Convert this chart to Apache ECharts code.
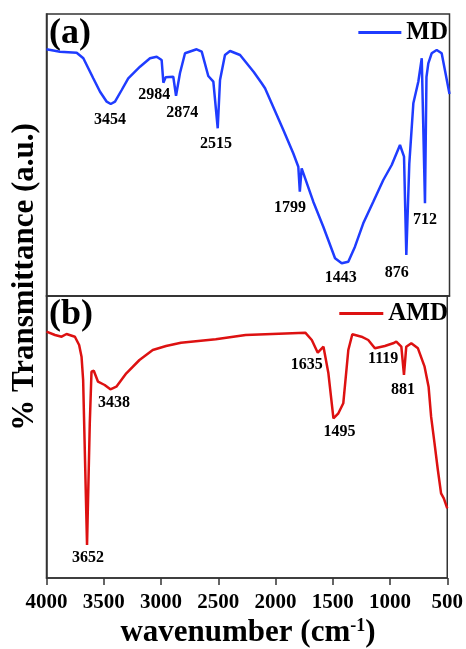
<!DOCTYPE html>
<html><head><meta charset="utf-8">
<script src="https://cdn.jsdelivr.net/npm/echarts@6/dist/echarts.min.js"></script>
<style>html,body{margin:0;padding:0;background:#fff}#c{width:466px;height:649px}</style>
</head><body><div id="c"></div>
<script>
// MD spectrum (panel a): wavenumber (cm-1) and transmittance (a.u.)
const mdWavenumber = [4000,3883,3738,3680,3637,3594,3535,3477,3442,3405,3347,3290,3188,3101,3043,3000,2985,2965,2899,2875,2841,2797,2696,2652,2595,2551,2513,2493,2450,2406,2319,2200,2131,2102,1943,1857,1813,1800,1784,1683,1596,1553,1494,1436,1379,1321,1249,1162,1075,1002,930,895,875,849,814,771,741,727,713,700,684,655,611,568,500];
const mdTransmittance = [246.7,244.3,243.3,237.7,227.7,217.7,204.3,194.3,192,194.3,206,217.7,229.3,237.7,239.3,236,213.3,218.7,219.3,200.3,222.7,242.7,246.7,244.3,220,214.3,167.7,216,241,245,241,224,212.7,207.7,166,142.7,129.3,104.3,127.7,94.3,69.3,56,37.7,32.7,34.3,49.3,72.7,94.3,116,131,151,139.3,41,132.7,192.7,214.3,237.7,236,92.7,219,232.7,242.7,246,242.7,202];
// AMD spectrum (panel b)
const amdWavenumber = [4000,3926,3868,3825,3752,3715,3694,3680,3646,3622,3607,3587,3550,3492,3442,3390,3303,3188,3072,2956,2826,2522,2261,1740,1683,1631,1581,1538,1494,1451,1408,1364,1329,1249,1190,1132,1045,973,945,901,878,858,814,756,698,663,641,611,582,554,530,500];
const amdTransmittance = [246.3,243,241.3,244,241.3,233,221.3,198,33,154.7,206.3,207.3,196.3,193,188.7,191.3,204.7,218,228,232,235.3,238.7,243,245.3,238,225.3,231.3,204.7,159.7,164.7,174.7,228,243.7,241.3,238,229.7,232,234.7,236.3,231.3,203,231.3,234.7,229.7,211.3,191.3,161.3,134.7,108,84.7,79.7,69.7];
// Peak annotations: label text, anchor wavenumber, anchor transmittance
const mdPeakText = ['3454','2984','2874','2515','1799','1443','876','712'];
const mdPeakX = [3448,3064,2821,2528,1885,1445,958,713];
const mdPeakY = [176,201,182.7,151.7,87.7,17.7,22.7,76];
const amdPeakText = ['3652','3438','1635','1495','1119','881'];
const amdPeakX = [3637,3411,1726,1442,1060,886];
const amdPeakY = [19.7,174.7,213,146.3,218.7,188];
const xTicks = [4000,3500,3000,2500,2000,1500,1000,500];
const seriesNames = ['MD','AMD'];
const panelTags = ['(a)','(b)'];

const FONT = '"Liberation Serif","Times New Roman",serif';
const zip = (a,b) => a.map((v,i)=>[v,b[i]]);
const chart = echarts.init(document.getElementById('c'));

const L = 46.5, W = 403;
function xAx(idx, showLabels){
  return {gridIndex: idx, type:'value', inverse:true, min:500, max:4000, interval:500,
    axisLine:{show:true, onZero:false, lineStyle:{color:'#333', width:1.5}},
    axisTick:{show:showLabels, inside:false, length:7, lineStyle:{color:'#333', width:1.5}},
    axisLabel:{show:showLabels, fontFamily:FONT, fontWeight:'bold', fontSize:21, color:'#000', margin:14,
      formatter: v => xTicks.includes(v) ? String(v) : ''},
    splitLine:{show:false}};
}
function yAx(idx){
  return {gridIndex: idx, type:'value', min:0, max:282,
    axisLine:{show:true, lineStyle:{color:'#333', width:1.5}}, axisTick:{show:false}, axisLabel:{show:false}, splitLine:{show:false}};
}
function peaks(idx, texts, xs, ys){
  return {type:'scatter', xAxisIndex:idx, yAxisIndex:idx, symbolSize:0, silent:true,
    itemStyle:{opacity:1},
    data: texts.map((t,i)=>({value:[xs[i], ys[i]], name:t})),
    label:{show:true, position:'inside', formatter: p => p.name, fontFamily:FONT, fontWeight:'bold', fontSize:16, color:'#000', opacity:1}};
}

chart.setOption({
  animation:false,
  backgroundColor:'#fff',
  grid:[{left:L, width:W, top:14, height:282, show:true, borderColor:'#333', borderWidth:1.5},
        {left:L, width:W, top:296, height:282, show:true, borderColor:'#333', borderWidth:1.5}],
  xAxis:[xAx(0,false), xAx(1,true)],
  yAxis:[yAx(0), yAx(1)],
  legend:[
    {data:[seriesNames[0]], right:18, top:20, itemWidth:43, itemHeight:3, itemGap:6,
     textStyle:{fontFamily:FONT, fontWeight:'bold', fontSize:25, color:'#000'}, icon:'rect', padding:0},
    {data:[seriesNames[1]], right:18, top:301, itemWidth:44, itemHeight:3, itemGap:6,
     textStyle:{fontFamily:FONT, fontWeight:'bold', fontSize:25, color:'#000'}, icon:'rect', padding:0}
  ],
  series:[
    {name:seriesNames[0], type:'line', xAxisIndex:0, yAxisIndex:0, data:zip(mdWavenumber, mdTransmittance),
     showSymbol:false, symbol:'none', lineStyle:{color:'#1f3cff', width:2.5}, itemStyle:{color:'#1f3cff'}},
    {name:seriesNames[1], type:'line', xAxisIndex:1, yAxisIndex:1, data:zip(amdWavenumber, amdTransmittance),
     showSymbol:false, symbol:'none', lineStyle:{color:'#dd1111', width:2.5}, itemStyle:{color:'#dd1111'}},
    peaks(0, mdPeakText, mdPeakX, mdPeakY),
    peaks(1, amdPeakText, amdPeakX, amdPeakY)
  ],
  graphic:[
    {type:'text', left:49, top:16, style:{text:panelTags[0], font:'bold 36px '+FONT, fill:'#000'}},
    {type:'text', left:49, top:297, style:{text:panelTags[1], font:'bold 36px '+FONT, fill:'#000'}},
    {type:'text', x:25, y:277, rotation:Math.PI/2,
     style:{text:'% Transmittance (a.u.)', font:'bold 31px '+FONT, fill:'#000', align:'center', verticalAlign:'middle'}},
    {type:'text', x:248, y:633,
     style:{text:'{t|wavenumber (cm}{s|-1}{t|)}', align:'center', verticalAlign:'middle',
       rich:{t:{font:'bold 31px '+FONT, fill:'#000'}, s:{font:'bold 18px '+FONT, fill:'#000', verticalAlign:'top', padding:[0,0,12,0]}}}}
  ]
});
</script></body></html>
